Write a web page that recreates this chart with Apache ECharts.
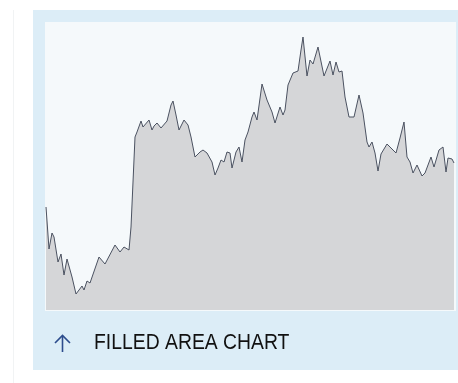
<!DOCTYPE html>
<html lang="en">
<head>
  <meta charset="UTF-8">
  <script src="https://cdn.jsdelivr.net/npm/echarts@6/dist/echarts.min.js"></script>
  <style>
    html, body { margin: 0; padding: 0; background: #fff; }
    #chart { width: 458px; height: 383px; }
  </style>
</head>
<body>
  <div id="chart"></div>
  <script>
    // time steps and values
    var steps = [0, 3, 6, 8, 12, 15, 18, 21, 26, 30, 36, 38, 41, 44, 53, 59, 69, 74, 78, 83, 85, 89, 91, 95, 97, 103, 106, 108, 111, 115, 121, 125, 127, 130, 133, 138, 142, 145, 149, 154, 157, 161, 166, 169, 172, 175, 178, 181, 184, 186, 190, 193, 196, 199, 202, 206, 208, 211, 216, 221, 226, 229, 231, 234, 237, 239, 242, 247, 252, 255, 257, 261, 264, 267, 272, 278, 284, 287, 290, 293, 296, 299, 303, 308, 313, 317, 321, 323, 326, 329, 332, 335, 337, 341, 345, 347, 350, 354, 358, 361, 364, 367, 371, 376, 379, 385, 388, 393, 397, 400, 402, 406, 408];
    var values = [103, 61, 77, 73, 48, 56, 35, 51, 33, 16, 24, 20, 29, 27, 53, 46, 65, 58, 63, 60, 83, 173, 178, 189, 183, 190, 180, 184, 187, 182, 189, 205, 209, 195, 180, 190, 185, 173, 153, 158, 160, 157, 148, 135, 142, 150, 148, 158, 157, 142, 158, 163, 148, 170, 178, 193, 198, 190, 226, 210, 198, 187, 187, 203, 195, 200, 225, 237, 239, 260, 273, 234, 250, 246, 263, 234, 249, 235, 248, 238, 239, 213, 193, 193, 215, 197, 168, 163, 168, 157, 139, 156, 155, 166, 162, 163, 157, 172, 188, 153, 148, 137, 145, 134, 137, 153, 143, 160, 163, 138, 152, 151, 147];
    var caption = 'FILLED AREA CHART';

    var data = steps.map(function (s, i) { return [s, values[i]]; });

    var chart = echarts.init(document.getElementById('chart'));
    var option = {
      animation: false,
      graphic: [
        {
          type: 'line',
          shape: { x1: 13.5, y1: 10, x2: 13.5, y2: 383 },
          style: { stroke: '#f1f3f4', lineWidth: 1 },
          z: -20
        },
        {
          type: 'rect',
          shape: { x: 33, y: 10, width: 425, height: 360 },
          style: { fill: '#dcedf7' },
          z: -10
        },
        {
          type: 'rect',
          shape: { x: 45, y: 22, width: 411, height: 289 },
          style: { fill: '#f5f9fb' },
          z: -5
        },
        // up arrow before the caption
        {
          type: 'polyline',
          shape: { points: [[55, 343], [62.5, 335.5], [70, 343]] },
          style: { stroke: '#2c4c8c', lineWidth: 1.6, fill: null }
        },
        {
          type: 'line',
          shape: { x1: 62.5, y1: 336, x2: 62.5, y2: 352 },
          style: { stroke: '#2c4c8c', lineWidth: 1.6 }
        },
        {
          type: 'text',
          x: 94,
          y: 332,
          scaleX: 0.88,
          style: {
            text: caption,
            fill: '#111',
            font: 'normal 22px "Liberation Sans", Arial, sans-serif',
            verticalAlign: 'top'
          }
        }
      ],
      grid: { left: 46, right: 3, top: 22, bottom: 73 },
      xAxis: { type: 'value', min: 0, max: 409, show: false },
      yAxis: { type: 'value', min: 0, max: 288, show: false },
      series: [
        {
          type: 'line',
          data: data,
          symbol: 'none',
          lineStyle: { color: '#4b5261', width: 1 },
          areaStyle: { color: '#d5d6d8', opacity: 1 }
        }
      ]
    };
    chart.setOption(option);
  </script>
</body>
</html>
